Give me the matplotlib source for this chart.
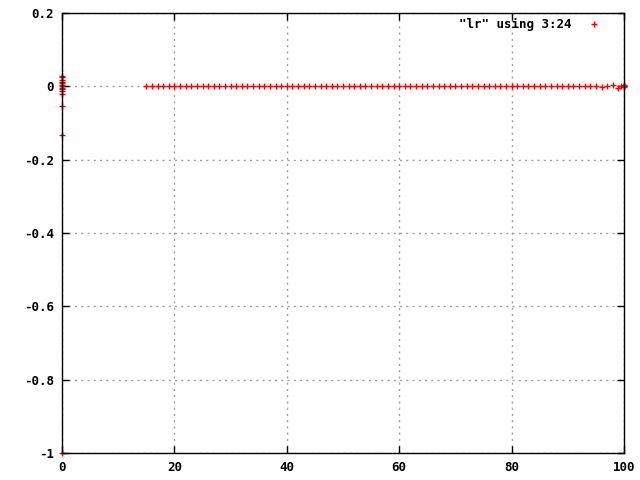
import matplotlib
matplotlib.use('Agg')
import matplotlib.pyplot as plt
import numpy as np

# column 3 vs column 24 of "lr"
x_start = [0, 0, 0, 0, 0, 0, 0, 0, 0, 0, 0, 0, 0]
y_start = [0.028, 0.025, 0.017, 0.012, 0.008, 0.004, 0.0, -0.004, -0.008, -0.014, -0.02, -0.054, -0.133]
x_mid = list(range(15, 96))
y_mid = [0.0] * len(x_mid)
x_end = [96, 97, 98, 99, 99.5, 100, 100, 100, 100]
y_end = [-0.001, 0.0, 0.003, -0.004, 0.001, 0.004, 0.0, -0.003, 0.002]
x_low = [0]
y_low = [-1.0]

x = x_start + x_mid + x_end + x_low
y = y_start + y_mid + y_end + y_low

plt.rcParams['font.family'] = 'DejaVu Sans Mono'
plt.rcParams['font.weight'] = 'bold'
plt.rcParams['font.size'] = 9

fig = plt.figure(figsize=(6.4, 4.8), dpi=100)
ax = fig.add_axes([62/640, 1-453/480, 562/640, 440/480])

ax.plot(x, y, '+', color='red', markersize=5, markeredgewidth=1, label='"lr" using 3:24', clip_on=False)

ax.set_xlim(0, 100)
ax.set_ylim(-1, 0.2)
ax.set_xticks(np.arange(0, 101, 20))
ax.set_yticks([-1, -0.8, -0.6, -0.4, -0.2, 0, 0.2])
ax.set_yticklabels(['-1', '-0.8', '-0.6', '-0.4', '-0.2', '0', '0.2'])
ax.tick_params(direction='in', top=True, right=True, length=5, width=1, pad=6, labelsize=9)
ax.grid(True, color='#a0a0a0', linestyle=(0, (1.5, 3)), linewidth=1)
for s in ax.spines.values():
    s.set_linewidth(1)

leg = ax.legend(loc='upper right', bbox_to_anchor=(0.978, 1.0), frameon=False, markerfirst=False,
                handlelength=2.0, handletextpad=0.84, borderaxespad=0, markerscale=0.8,
                prop={'family': 'DejaVu Sans Mono', 'weight': 'bold', 'size': 9})

fig.savefig('out.png', dpi=100)
